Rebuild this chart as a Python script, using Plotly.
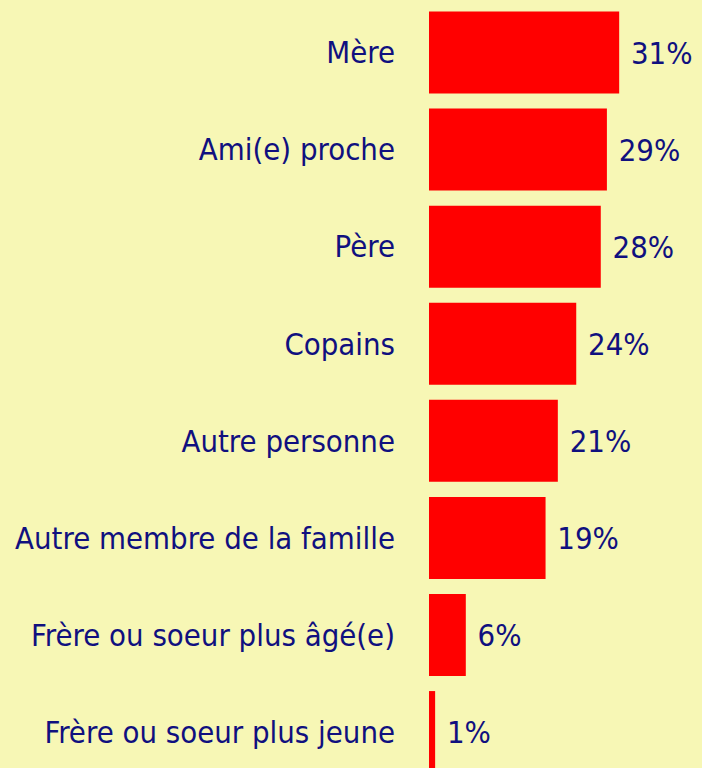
import plotly.graph_objects as go

categories = ["Mère", "Ami(e) proche", "Père", "Copains", "Autre personne",
              "Autre membre de la famille", "Frère ou soeur plus âgé(e)",
              "Frère ou soeur plus jeune"]
values = [31, 29, 28, 24, 21, 19, 6, 1]
value_labels = ["31%", "29%", "28%", "24%", "21%", "19%", "6%", "1%"]

NAVY = "#10107F"
BG = "#F7F7B5"
FONT = "DejaVu Sans Condensed, Liberation Sans Narrow, sans-serif"
FS = 30.8

fig = go.Figure(go.Bar(
    x=values, y=categories, orientation="h",
    marker=dict(color="#FF0000", line=dict(width=0)),
    text=[" " + t for t in value_labels], textposition="outside",
    textfont=dict(color=NAVY, size=FS, family=FONT),
    cliponaxis=False, hoverinfo="skip",
))

fig.update_layout(
    width=702, height=768,
    margin=dict(l=429, r=0, t=0, b=0),
    paper_bgcolor=BG, plot_bgcolor=BG,
    bargap=0.155,
    showlegend=False,
    font=dict(family=FONT, color=NAVY, size=FS),
    xaxis=dict(range=[0, 44.5], visible=False, fixedrange=True),
    yaxis=dict(range=[7.370, -0.541], showgrid=False, zeroline=False,
               showline=False, ticks="", ticklabelstandoff=33,
               tickfont=dict(family=FONT, color=NAVY, size=FS),
               automargin=False, fixedrange=True),
)

fig.write_html("out.html", config={"displayModeBar": False},
               post_script="document.body.style.margin='0';document.body.style.overflow='hidden';")
